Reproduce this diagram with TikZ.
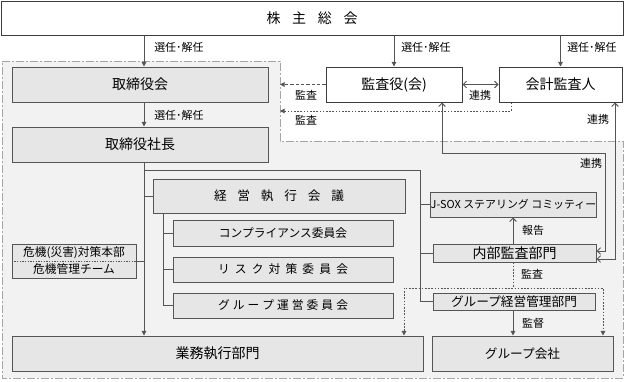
\documentclass[tikz,border=0pt]{standalone}
\usepackage{fontspec}
\setmainfont{Noto Sans CJK JP}
\usetikzlibrary{arrows.meta, positioning}

\definecolor{boxfill}{HTML}{E6E6E6}
\definecolor{boxline}{HTML}{555555}
\definecolor{frameline}{HTML}{3C3C3C}
\definecolor{areafill}{HTML}{F2F2F2}
\definecolor{arealine}{HTML}{A6A6A6}
\definecolor{wireline}{HTML}{555555}
\definecolor{inkline}{HTML}{000000}

\newcommand{\spreadtext}[2]{\makebox[#1][s]{#2}}

\begin{document}
\begin{tikzpicture}[x=0.75pt, y=-0.75pt,
  area/.style={draw=arealine, fill=areafill, line width=0.75pt, dash pattern=on 6pt off 1.5pt on 1.5pt off 1.5pt},
  box/.style={draw=boxline, fill=boxfill, line width=0.75pt, inner sep=0pt, text=inkline},
  whitebox/.style={box, draw=frameline, fill=white},
  sz/.style 2 args={minimum width=#1*0.75pt, minimum height=#2*0.75pt},
  ftitle/.style={font=\fontsize{10.5}{12}\selectfont},
  fmid/.style={font=\fontsize{9.5}{11}\selectfont},
  fsmall/.style={font=\fontsize{8.8}{10}\selectfont},
  lbl/.style={inner sep=0pt, text=inkline, font=\fontsize{8.2}{9}\selectfont},
  wire/.style={draw=wireline, line width=0.75pt},
  arr/.style={wire, -{Triangle[length=3.5pt, width=3.5pt]}},
  barb/.style={wire, -{Straight Barb[length=2.5pt, width=5pt]}},
  twobarb/.style={wire, {Straight Barb[length=2.5pt, width=5pt]}-{Straight Barb[length=2.5pt, width=5pt]}},
  dashwire/.style={arr, dash pattern=on 2.5pt off 1.5pt},
  dotline/.style={wire, dash pattern=on 1.2pt off 1.2pt},
  dotwire/.style={dotline, {Triangle[length=3.5pt, width=3.5pt]}-{Triangle[length=3.5pt, width=3.5pt]}},
]
  \useasboundingbox (0,0) rectangle (625,382);
  % Background area
  \draw[area] (2,61) -- (280,61) coordinate (areaNE) -- (280,141) -- (623,141) -- (623,378) -- (2,378) -- cycle;

  % Shareholders and auditors
  \node[whitebox, ftitle, sz={622}{34}] (share) at (312,18) {\spreadtext{68.25pt}{株\hfil 主\hfil 総\hfil 会}};
  \node[box, ftitle, sz={256}{35}] (board) at (140,84.5) {取締役会};
  \node[whitebox, ftitle, sz={136}{35}] (kansa) at (394,84.5) {監査役(会)};
  \node[whitebox, ftitle, sz={123}{35}] (auditor) at (560.5,84.5) {会計監査人};
  \node[box, ftitle, sz={256}{35}] (president) at (140,144.5) {取締役社長};

  % Executive bodies
  \node[box, fmid, sz={252}{34}] (keiei) at (279,196) {\spreadtext{97.5pt}{経\hfil 営\hfil 執\hfil 行\hfil 会\hfil 議}};
  \node[box, fsmall, sz={220}{26}] (comp) at (283,233) {コンプライアンス委員会};
  \node[box, fsmall, sz={220}{25}] (risk) at (283,269.5) {\spreadtext{97.5pt}{リ\hfil ス\hfil ク\hfil 対\hfil 策\hfil 委\hfil 員\hfil 会}};
  \node[box, fsmall, sz={220}{25}] (grpcomm) at (283,305.5) {\spreadtext{97.5pt}{グ\hfil ル\hfil ー\hfil プ\hfil 運\hfil 営\hfil 委\hfil 員\hfil 会}};
  \node[box, sz={124}{34}] (kiki) at (74,261) {};
  \draw[boxline, dash pattern=on 1pt off 1pt] (kiki.west) -- (kiki.east);
  \node[lbl, fsmall] (kikiTop) at (74,252.5) {危機(災害)対策本部};
  \node[lbl, fsmall] (kikiBot) at (74,269.5) {危機管理チーム};

  % Right column
  \node[box, font=\fontsize{8.2}{9}\selectfont, sz={161}{25}] (jsox) at (513.5,204.5) {J-SOX ステアリング コミッティー};
  \node[box, ftitle, sz={163}{18}] (naibu) at (514.5,253) {内部監査部門};
  \node[box, fmid, sz={162}{17}] (grpmgmt) at (514,301.5) {グループ経営管理部門};
  \node[box, ftitle, sz={411}{35}] (gyomu) at (217.5,353.5) {業務執行部門};
  \node[box, fmid, sz={181}{35}] (gaisha) at (522.5,353.5) {グループ会社};

  \coordinate (trunk) at (144,0);
  \coordinate (spineTop) at (420.7,170.7);
  \coordinate (subSpine) at (163,0);
  \coordinate (colA) at (513,0);
  \coordinate (auditDown) at (511,111);
  \coordinate (upK) at (442,153);
  \coordinate (loopIn) at (605,153);
  \coordinate (loopOut) at (615,0);
  \coordinate (naibuA) at ([yshift=1.5pt]naibu.east);
  \coordinate (naibuB) at ([yshift=-4.5pt]naibu.east);
  \coordinate (dotL) at (404,288);
  \coordinate (dotR) at (603,288);

  % Appointment
  \draw[arr] (trunk |- share.south) -- (trunk |- board.north);
  \draw[arr] (share.south -| kansa.north) -- (kansa.north);
  \draw[arr] (share.south -| auditor.north) -- (auditor.north);
  \draw[arr] (trunk |- board.south) -- (trunk |- president.north);
  \draw[arr] (trunk |- president.south) -- (trunk |- gyomu.north);
  \node[lbl, anchor=west] (selA) at (154,47.7) {選任･解任};
  \node[lbl, anchor=west] (selB) at (401,47.7) {選任･解任};
  \node[lbl, anchor=west] (selC) at (567,47.7) {選任･解任};
  \node[lbl, anchor=west] (selD) at (154,115) {選任･解任};

  % Audit of the board
  \draw[dashwire] (kansa.west) -- (areaNE |- kansa.west);
  \draw[dotline, -{Triangle[length=3.5pt, width=3.5pt]}] (auditDown |- auditor.south) -- (auditDown) -- (areaNE |- auditDown);
  \draw[twobarb] (kansa.east) -- (auditor.west);
  \node[lbl] (audA) at (306,95) {監査};
  \node[lbl] (audB) at (306,120) {監査};
  \node[lbl] (linkA) at (480,95) {連携};

  % Cooperation with internal audit
  \draw[twobarb] (upK |- kansa.south) -- (upK) -- (loopIn) -- (loopIn |- naibuA) -- (naibuA);
  \draw[twobarb] (loopOut |- auditor.south) -- (loopOut |- naibuB) -- (naibuB);
  \node[lbl] (linkB) at (598,119) {連携};
  \node[lbl] (linkC) at (591,163) {連携};

  % Executive tree
  \draw[wire] (trunk |- spineTop) -- (spineTop) -- (spineTop |- grpmgmt.west) -- (grpmgmt.west);
  \draw[wire] (spineTop |- jsox.west) -- (jsox.west);
  \draw[wire] (spineTop |- naibu.west) -- (naibu.west);
  \draw[wire] (trunk |- keiei.west) -- (keiei.west);
  \draw[wire] (kiki.east) -- (trunk |- kiki.east);
  \draw[wire] (subSpine |- keiei.south) -- (subSpine |- grpcomm.west) -- (grpcomm.west);
  \draw[wire] (subSpine |- comp.west) -- (comp.west);
  \draw[wire] (subSpine |- risk.west) -- (risk.west);

  % Reporting, audit and supervision
  \draw[barb] (colA |- naibu.north) -- (colA |- jsox.south);
  \draw[arr] (colA |- grpmgmt.south) -- (colA |- gaisha.north);
  \draw[dotline] (colA |- naibu.south) -- (colA |- dotL);
  \draw[dotwire] (dotL |- gyomu.north) -- (dotL) -- (dotR) -- (dotR |- gaisha.north);
  \node[lbl] (report) at (533,230) {報告};
  \node[lbl] (audC) at (532,274) {監査};
  \node[lbl] (superv) at (533,323) {監督};
\end{tikzpicture}
\end{document}
